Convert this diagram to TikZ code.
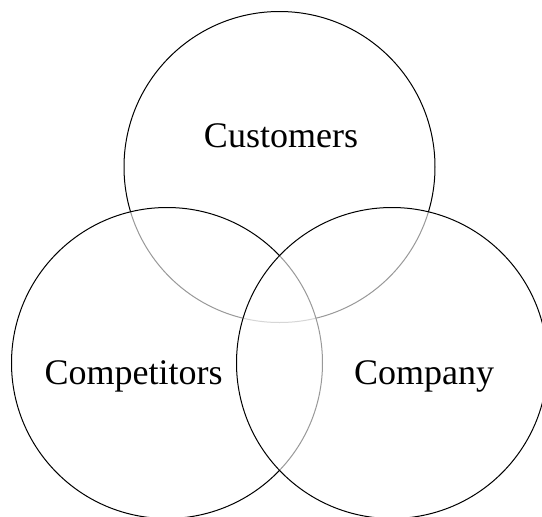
\documentclass[tikz,border=0pt]{standalone}
\usepackage{fontspec}
\setmainfont{Liberation Serif}
\begin{document}
\begin{tikzpicture}[x=1pt,y=-1pt,
  venn/.style={circle,draw=black,line width=1pt,fill=white,fill opacity=0.6,minimum size=311pt,inner sep=0pt,outer sep=0pt},
  lbl/.style={anchor=base,font=\fontsize{36}{40}\selectfont,text=black,inner sep=0pt}]
\useasboundingbox (0,0) rectangle (542,517);
\begin{scope}
\clip (0,0) rectangle (542,517);
\node[venn] (cust) at (279.5,167) {};
\node[venn] (comp) at (167,363) {};
\node[venn] (firm) at (392,363) {};
\end{scope}
\node[lbl] (tcust) at (281,147) {Customers};
\node[lbl] (tcomp) at (133.5,384) {Competitors};
\node[lbl] (tfirm) at (424,384) {Company};
\end{tikzpicture}
\end{document}
